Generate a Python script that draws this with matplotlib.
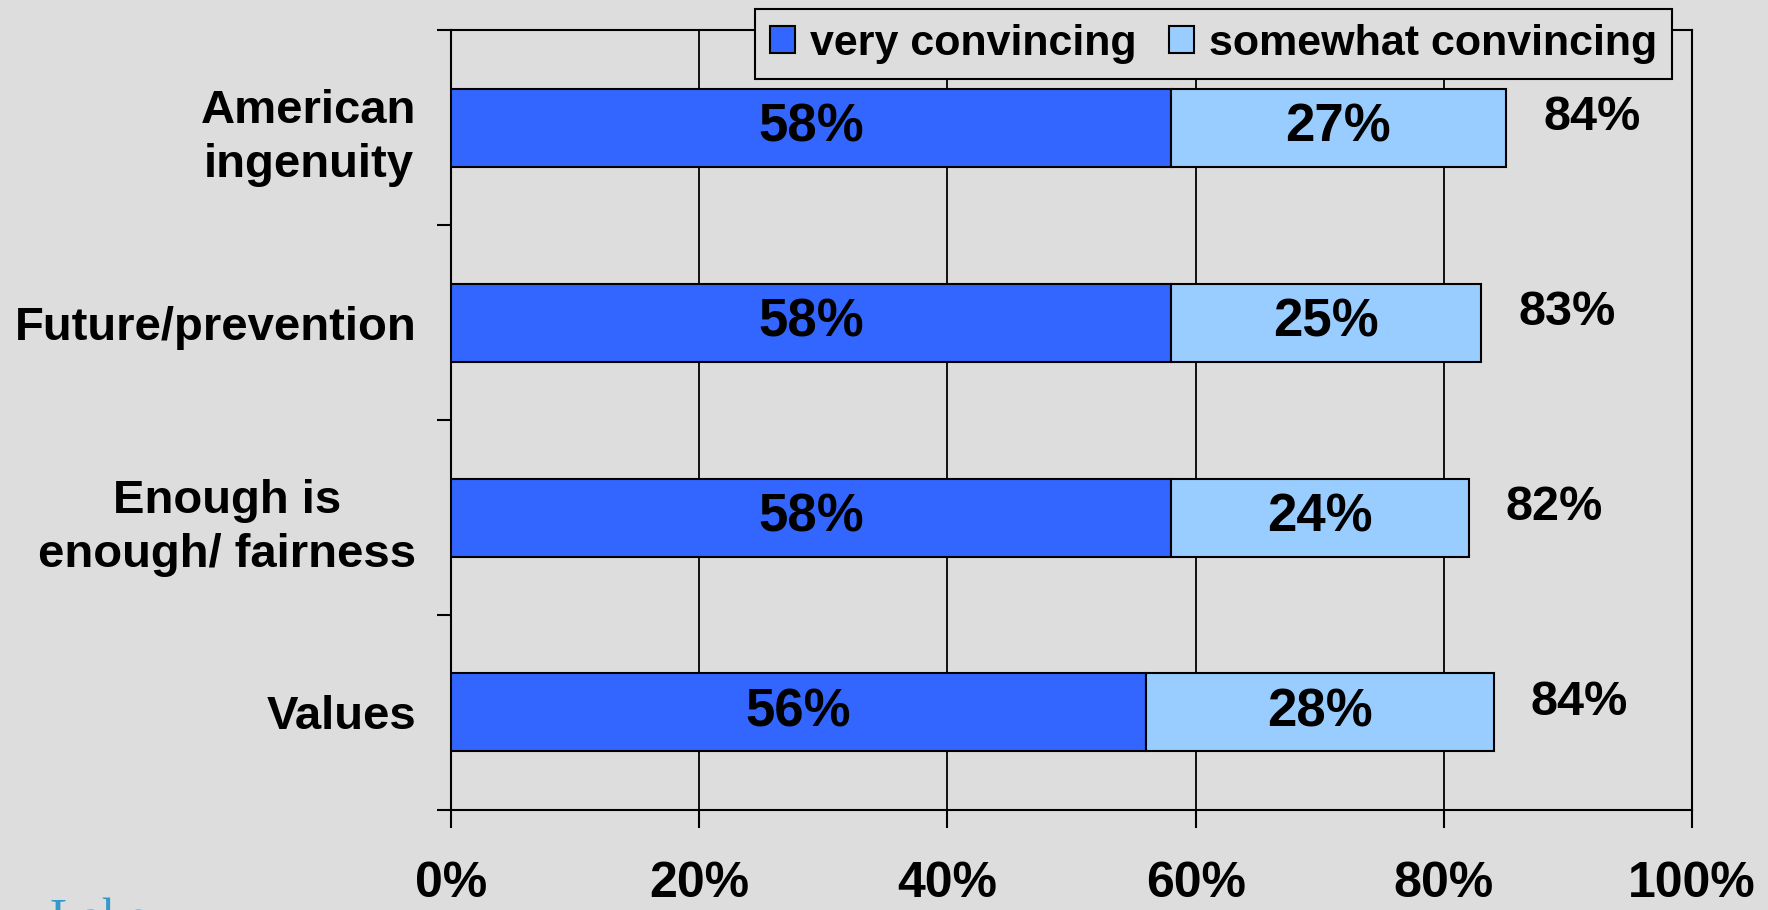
#!/usr/bin/env python3
"""Horizontal stacked bars: how convincing each argument is."""

import matplotlib

matplotlib.use("Agg")
import matplotlib.pyplot as plt
import numpy as np
from matplotlib.ticker import FixedLocator

plt.rcParams["font.family"] = ["Liberation Sans", "DejaVu Sans"]
plt.rcParams["font.weight"] = "bold"

categories = ["American\ningenuity", "Future/prevention", "Enough is\nenough/ fairness", "Values"]
very = [58, 58, 58, 56]
somewhat = [27, 25, 24, 28]
total_labels = [84, 83, 82, 84]
series_names = ["very convincing", "somewhat convincing"]
x_ticks = [0, 20, 40, 60, 80, 100]

BG = "#DDDDDD"
DARK = "#3366FF"
LIGHT = "#99CCFF"

fig = plt.figure(figsize=(17.68, 9.10), dpi=100, facecolor=BG)
ax = fig.add_axes([0.2551, 0.1099, 0.7020, 0.8571], facecolor=BG)

y = np.arange(len(categories))
very = np.array(very)
somewhat = np.array(somewhat)

ax.barh(y, very, height=0.4, color=DARK, edgecolor="black", linewidth=1.5,
        label=series_names[0], zorder=3)
ax.barh(y, somewhat, left=very, height=0.4, color=LIGHT, edgecolor="black",
        linewidth=1.5, label=series_names[1], zorder=3)

# segment labels
for yi, v, s in zip(y, very, somewhat):
    ax.text(v / 2, yi, f"{v}%", ha="center", va="center", fontsize=38,
            fontweight="bold", zorder=4)
    ax.text(v + s / 2, yi, f"{s}%", ha="center", va="center", fontsize=38,
            fontweight="bold", zorder=4)

# totals to the right of each bar
for yi, v, s, t in zip(y, very, somewhat, total_labels):
    ax.text(v + s + 3, yi - 0.05, f"{t}%", ha="left", va="center",
            fontsize=35, fontweight="bold", zorder=4)

ax.set_xlim(0, 100)
ax.set_ylim(len(categories) - 0.5, -0.5)

ax.set_xticks(x_ticks)
ax.set_xticklabels([f"{t}%" for t in x_ticks], fontsize=36, fontweight="bold")
ax.tick_params(axis="x", direction="out", length=13, width=1.5, pad=24)

# y ticks at category boundaries, labels at centres
ax.yaxis.set_major_locator(FixedLocator(np.arange(len(categories) + 1) - 0.5))
ax.yaxis.set_major_formatter(plt.NullFormatter())
ax.set_yticks(y, minor=True)
ax.set_yticklabels(categories, minor=True, fontsize=34, fontweight="bold")
for lab in ax.get_yticklabels(minor=True):
    lab.set_multialignment("center")
    lab.set_linespacing(1.3)
ax.tick_params(axis="y", which="major", direction="out", length=10, width=1.5)
ax.tick_params(axis="y", which="minor", length=0, pad=25)

ax.grid(axis="x", color="black", linewidth=1.3, zorder=1)
for sp in ax.spines.values():
    sp.set_color("black")
    sp.set_linewidth(1.5)

leg = ax.legend(loc="upper right", bbox_to_anchor=(1672 / 1768, 1 - 9 / 910),
                bbox_transform=fig.transFigure, ncol=2, fontsize=31,
                frameon=True, fancybox=False, framealpha=1, facecolor=BG,
                edgecolor="black", handlelength=0.58, handleheight=0.58,
                handletextpad=0.35, columnspacing=0.75, borderpad=0.35,
                borderaxespad=0)
leg.get_frame().set_linewidth(1.5)
leg.set_zorder(5)

# cropped logo fragment at the bottom-left edge
fig.text(0.028, -0.038, "Lake", fontsize=36, family="Liberation Serif",
         fontweight="normal", color="#3399CC", va="bottom")

fig.savefig("out.png", dpi=100, facecolor=BG)
